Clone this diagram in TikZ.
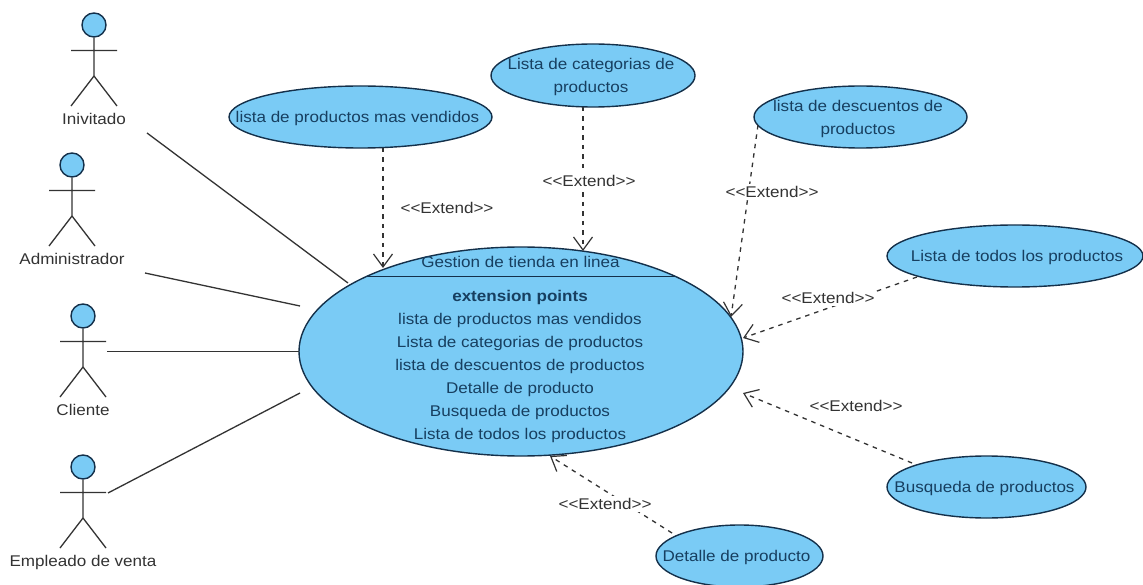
\documentclass[tikz,border=0pt]{standalone}
\usepackage{fontspec}
\setmainfont[FakeStretch=1.1]{Liberation Sans}
\usetikzlibrary{shapes.geometric,arrows.meta}
\definecolor{ucfill}{HTML}{7ACBF5}
\definecolor{ucline}{HTML}{14304A}
\definecolor{uctext}{HTML}{173F60}
\definecolor{gtext}{HTML}{333333}
\tikzset{
  x=1pt,y=-1pt,
  txt/.style={font=\fontsize{15.5}{16}\selectfont,inner sep=0pt},
  uc/.style={ellipse,draw=ucline,fill=ucfill,line width=1.4pt,inner sep=0pt},
  uctxt/.style={inner sep=0pt,align=center,text=uctext,font=\fontsize{15.5}{23}\selectfont},
  head/.style={circle,draw=ucline,fill=ucfill,line width=1.4pt,minimum size=24pt,inner sep=0pt},
  limb/.style={draw=gtext,line width=1.3pt},
  assoc/.style={draw=gtext,line width=1.3pt},
  ext/.style={draw=gtext,line width=1.3pt,dash pattern=on 4.5pt off 5pt,-{Straight Barb[length=13pt,width=19pt,line width=1.2pt]}},
  lab/.style={txt,text=gtext,fill=white,inner xsep=1pt,inner ysep=2pt},
  actlab/.style={txt,text=gtext},
}
\newcommand{\umlactor}[5]{%
  % id, head x, head y, label y, label text
  \node[head] (#1) at (#2,#3) {};
  \coordinate (#1n) at (#2,#3+51);
  \coordinate (#1a) at (#2-23,#3+25.5);
  \coordinate (#1b) at (#2+23,#3+25.5);
  \coordinate (#1l) at (#2-23,#3+81);
  \coordinate (#1r) at (#2+23,#3+81);
  \path[limb] (#1.south) -- (#1n) -- (#1l) (#1n) -- (#1r) (#1a) -- (#1b);
  \node[actlab] (#1t) at (#2,#4) {#5};
}
\newcommand{\usecase}[8]{%
  % id, x, y, width, height, text x, text y, text
  \node[uc,minimum width=#4pt,minimum height=#5pt] (#1) at (#2,#3) {};
  \node[uctxt] (#1t) at (#6,#7) {#8};
}
\begin{document}
\begin{tikzpicture}
\useasboundingbox (0,0) rectangle (1143,585);
\fill[white] (0,0) rectangle (1143,585);

\umlactor{inv}{94}{25}{119}{Inivitado}
\umlactor{adm}{72}{165}{259}{Administrador}
\umlactor{cli}{83}{316}{410}{Cliente}
\umlactor{emp}{83}{467}{562}{Empleado de venta}

% main use case
\node[uc,minimum width=444pt,minimum height=209pt] (main) at (521,351.5) {};
\coordinate (compL) at (366,276.5);
\coordinate (compR) at (676,276.5);
\path[draw=ucline,line width=1.4pt] (compL) -- (compR);
\node[uctxt] (title) at (520.5,262) {Gestion de tienda en linea};
\node[uctxt] (points) at (520,366.5) {\textbf{extension points}\\
lista de productos mas vendidos\\
Lista de categorias de productos\\
lista de descuentos de productos\\
Detalle de producto\\
Busqueda de productos\\
Lista de todos los productos};

% extending use cases
\usecase{masv}{360.5}{117}{263}{62}{357.5}{118}{lista de productos mas vendidos}
\usecase{cat}{593}{75.5}{204}{63}{591}{76.5}{Lista de categorias de\\productos}
\usecase{desc}{860.5}{117}{213}{62}{858}{118.5}{lista de descuentos de\\productos}
\usecase{todos}{1015}{256}{256}{62}{1017}{257}{Lista de todos los productos}
\usecase{busq}{986.5}{487}{199}{62}{984.5}{488}{Busqueda de productos}
\usecase{det}{739.5}{556}{167}{62}{736.5}{557}{Detalle de producto}

% association ends
\coordinate (a1) at (147,133); \coordinate (a2) at (348,283);
\coordinate (b1) at (145,273); \coordinate (b2) at (300,306);
\coordinate (c1) at (107,351.5); \coordinate (c2) at (299,351.5);
\coordinate (d1) at (108,493); \coordinate (d2) at (300,393);
\path[assoc] (a1) -- (a2);
\path[assoc] (b1) -- (b2);
\path[assoc] (c1) -- (c2);
\path[assoc] (d1) -- (d2);

% extend ends
\coordinate (e1) at (383,148); \coordinate (e2) at (383,268);
\coordinate (f1) at (583,107); \coordinate (f2) at (583,251);
\coordinate (g1) at (758,125); \coordinate (g2) at (731,317);
\coordinate (h1) at (917,277); \coordinate (h2) at (743,338);
\coordinate (i1) at (912,463); \coordinate (i2) at (743,393);
\coordinate (j1) at (672,533); \coordinate (j2) at (550,456);
\path[ext] (e1) -- (e2);
\path[ext] (f1) -- (f2);
\path[ext] (g1) -- (g2);
\path[ext] (h1) -- (h2);
\path[ext] (i1) -- (i2);
\path[ext] (j1) -- (j2);

\node[lab] (le) at (447,208) {<{}<Extend>{}>};
\node[lab] (lf) at (589,181) {<{}<Extend>{}>};
\node[lab] (lg) at (772,192) {<{}<Extend>{}>};
\node[lab] (lh) at (828,298) {<{}<Extend>{}>};
\node[lab] (li) at (856,406) {<{}<Extend>{}>};
\node[lab] (lj) at (605,504) {<{}<Extend>{}>};
\end{tikzpicture}
\end{document}
